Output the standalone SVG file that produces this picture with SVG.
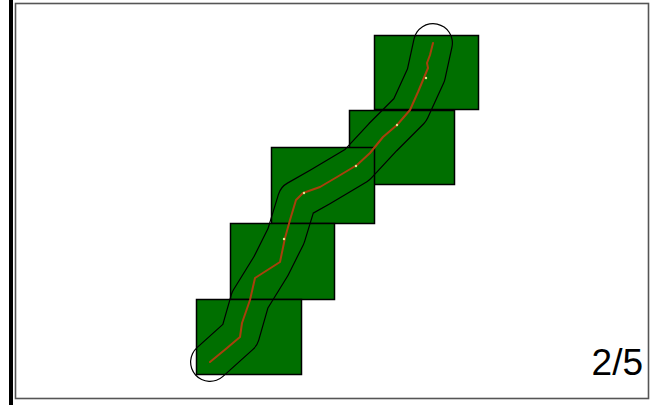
<svg xmlns="http://www.w3.org/2000/svg" xmlns:xlink="http://www.w3.org/1999/xlink" width="652" height="405" viewBox="0 0 652 405">
<style>
.cell{fill:#006f00;stroke:#000;stroke-width:1.5}
.route{fill:none;stroke:#a8400c;stroke-width:2;stroke-linejoin:round;stroke-linecap:round}
.dot{fill:#e8e890}
.lbl{font-family:"Liberation Sans",Arial,sans-serif;font-size:37px;fill:#000}
</style>
<defs>
<path id="tube" fill="none" stroke-linejoin="round" stroke-linecap="round" d="M433,43 L426,75 L410,110 L383,137 L357,165 L320,187 L297,200 L286,236 L271,266 L250,300 L240,335 L210,362"/>
<mask id="ring" maskUnits="userSpaceOnUse" x="0" y="0" width="652" height="405">
<use xlink:href="#tube" href="#tube" stroke="#fff" stroke-width="40"/>
<use xlink:href="#tube" href="#tube" stroke="#000" stroke-width="37.6"/>
</mask>
</defs>
<rect x="0" y="0" width="652" height="405" fill="#fff"/>
<rect x="9" y="0" width="4" height="405" fill="#000"/>
<rect x="15.5" y="3.5" width="633" height="395" fill="none" stroke="#555" stroke-width="1.6"/>
<g id="cells">
<rect id="cell1" class="cell" x="374.5" y="35.5" width="104" height="74"/>
<rect id="cell2" class="cell" x="349.5" y="110.5" width="105" height="74"/>
<rect id="cell3" class="cell" x="271.5" y="147.5" width="103" height="76"/>
<rect id="cell4" class="cell" x="230.5" y="223.5" width="104" height="76"/>
<rect id="cell5" class="cell" x="196.5" y="299.5" width="105" height="75"/>
</g>
<g id="connectors">
<rect x="0" y="0" width="652" height="405" fill="#000" mask="url(#ring)"/>
<path class="route" d="M433,43 L430,55 L427,63 L428,68 L423,80 L418,92 L410,110 L397,125 L383,137 L370,153 L357,165 L337,177 L320,187 L303,193 L296,200 L290,220 L285,238 L280,262 L255,278 L250,300 L242,323 L240,337 L227,348 L210,362"/>
<circle class="dot" cx="426" cy="78" r="1.2"/>
<circle class="dot" cx="397" cy="125" r="1.2"/>
<circle class="dot" cx="356" cy="166" r="1.2"/>
<circle class="dot" cx="304" cy="193" r="1.2"/>
<circle class="dot" cx="284" cy="239" r="1.2"/>
</g>
<text class="lbl" x="643" y="375" text-anchor="end">2/5</text>
</svg>
